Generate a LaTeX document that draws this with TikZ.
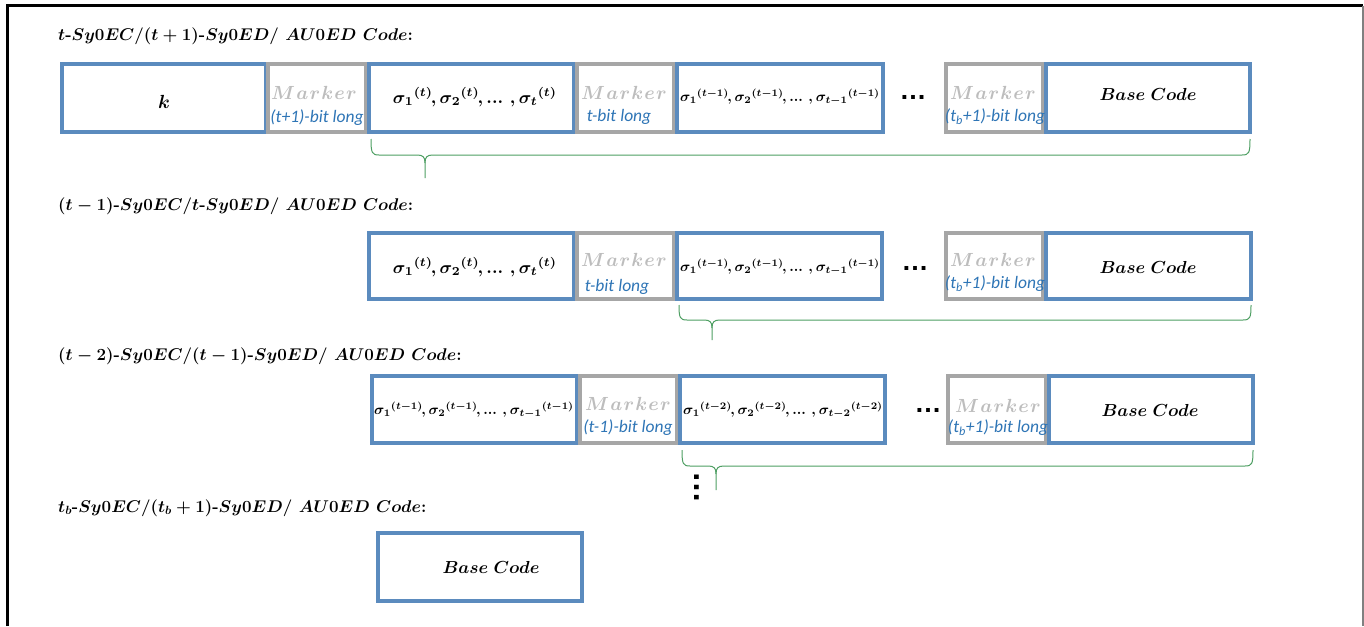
\RequirePackage{fix-cm}
\documentclass[tikz,border=0pt]{standalone}
\usepackage{fontspec}
\usepackage{amsmath}
\usepackage{bm}
\newfontfamily\carl{Carlito}
\newfontfamily\libsans{Liberation Sans}
\usetikzlibrary{calc}
\definecolor{boxblue}{HTML}{5B8BBE}
\definecolor{markgray}{HTML}{A6A6A6}
\definecolor{marktext}{HTML}{BDBDBD}
\definecolor{bitblue}{HTML}{2E75B6}
\definecolor{bracegreen}{HTML}{4E9F63}
\tikzset{
  bluebox/.style={draw=boxblue, line width=3.3pt, inner sep=0pt},
  graybox/.style={draw=markgray, line width=3.3pt, inner sep=0pt},
  ttl/.style={anchor=west, inner sep=0pt, font=\fontsize{17}{20}\selectfont\bfseries\boldmath},
  mk/.style={text=marktext, inner sep=0pt, font=\fontsize{19}{19}\selectfont\boldmath},
  bl/.style={text=bitblue, inner sep=0pt, font=\carl\itshape\fontsize{17.5}{18}\selectfont},
  bc/.style={inner sep=0pt, font=\fontsize{19}{19}\selectfont\boldmath},
  brc/.style={draw=bracegreen, line width=1pt},
  dotsty/.style={inner sep=0pt, font=\libsans\bfseries}
}
% box: style, name, x1, y1, x2, y2
\newcommand\mybox[6]{\node[#1, minimum width={#5-#3}, minimum height={#6-#4}] (#2) at ({(#3+#5)/2},{(#4+#6)/2}) {};}
% brace: xl, xtip, xr, ytop, ybot, ytipbottom
\newcommand\mybrace[6]{%
  \draw[brc] (#1,#4) .. controls (#1,#5-2) and (#1+1,#5) .. (#1+8,#5) -- (#2-8,#5) .. controls (#2-2,#5) and (#2,#5+2) .. (#2,#5+8) -- (#2,#6);
  \draw[brc] (#2,#5+8) .. controls (#2,#5+2) and (#2+2,#5) .. (#2+8,#5) -- (#3-8,#5) .. controls (#3-1,#5) and (#3,#5-2) .. (#3,#4);}
\newcommand\mkr{$M\mkern1mu a\mkern1mu r\mkern1mu k\mkern1mu e\mkern1mu r$}
\newcommand\cel{\mathinner{\ldotp\mkern-3mu\ldotp\mkern-3mu\ldotp}}
\newcommand\sigT{\resizebox{164pt}{!}{\boldmath$\sigma_1{}^{(t)}\mkern-2mu, \sigma_2{}^{(t)}\mkern-2mu, \cel\,, \sigma_t{}^{(t)}$}}
\newcommand\sigTa{\resizebox{200pt}{!}{\boldmath$\sigma_1{}^{(t-1)}\mkern-2mu, \sigma_2{}^{(t-1)}\mkern-2mu, \cel\,, \sigma_{t-1}{}^{(t-1)}$}}
\newcommand\sigTb{\resizebox{200pt}{!}{\boldmath$\sigma_1{}^{(t-2)}\mkern-2mu, \sigma_2{}^{(t-2)}\mkern-2mu, \cel\,, \sigma_{t-2}{}^{(t-2)}$}}
\newcommand\basecode{\resizebox{97pt}{!}{\boldmath$Base\ Code$}}
\newcommand\mydots{\resizebox{27pt}{!}{…}}
\newcommand\myvdots{\resizebox{32pt}{!}{…}}
\begin{document}
\begin{tikzpicture}[x=1pt,y=-1pt]
\useasboundingbox (0,0) rectangle (1364,626);
\fill[white] (0,0) rectangle (1364,626);
% frame
\coordinate (fa) at (7,626);
\coordinate (fb) at (7,6);
\coordinate (fc) at (1363,6);
\coordinate (fd) at (1363,626);
\draw[line width=3pt] (fa) -- (fb) -- (fc);
\draw[gray, line width=1.8pt] (fc) -- (fd);

% ---------- Row 1 ----------
\node[ttl] (t1) at (58,36) {$t$-$Sy0EC/(t+1)$-$Sy0ED/\ AU0ED\ Code$:};
\mybox{bluebox}{r1k}{62}{64}{266}{132}
\mybox{graybox}{r1m1}{268}{64}{366}{132}
\mybox{bluebox}{r1s1}{369}{64}{574}{132}
\mybox{graybox}{r1m2}{577}{64}{674}{132}
\mybox{bluebox}{r1s2}{677}{64}{883}{132}
\mybox{graybox}{r1m3}{946}{64}{1043}{132}
\mybox{bluebox}{r1b}{1046}{64}{1250}{132}
\node[bc] (r1kt) at (164,102) {$k$};
\node[mk] (r1m1a) at (314,93) {\mkr};
\node[bl] (r1m1b) at (317,118) {(t+1)-bit long};
\node (r1s1t) at (475,97) {\sigT};
\node[mk] (r1m2a) at (624,93) {\mkr};
\node[bl] (r1m2b) at (619,117) {t-bit long};
\node (r1s2t) at (780,97) {\sigTa};
\node[dotsty] (r1d) at (913,97) {\mydots};
\node[mk] (r1m3a) at (993,93) {\mkr};
\node[bl] (r1m3b) at (995,117) {(t\textsubscript{b}+1)-bit long};
\node[bc] (r1bt) at (1148,94) {\basecode};
\mybrace{371}{425}{1250}{139}{155}{178}

% ---------- Row 2 ----------
\node[ttl] (t2) at (58,206) {$(t-1)$-$Sy0EC/t$-$Sy0ED/\ AU0ED\ Code$:};
\mybox{bluebox}{r2s1}{369}{233}{574}{299}
\mybox{graybox}{r2m2}{577}{233}{674}{299}
\mybox{bluebox}{r2s2}{677}{233}{882}{299}
\mybox{graybox}{r2m3}{946}{233}{1043}{299}
\mybox{bluebox}{r2b}{1046}{233}{1251}{299}
\node (r2s1t) at (475,267) {\sigT};
\node[mk] (r2m2a) at (624,260) {\mkr};
\node[bl] (r2m2b) at (617,287) {t-bit long};
\node (r2s2t) at (780,267) {\sigTa};
\node[dotsty] (r2d) at (915,268) {\mydots};
\node[mk] (r2m3a) at (993,260) {\mkr};
\node[bl] (r2m3b) at (995,284) {(t\textsubscript{b}+1)-bit long};
\node[bc] (r2bt) at (1148,267) {\basecode};
\mybrace{679}{712}{1251}{305}{320}{340}

% ---------- Row 3 ----------
\node[ttl] (t3) at (58,356) {$(t-2)$-$Sy0EC/(t-1)$-$Sy0ED/\ AU0ED\ Code$:};
\mybox{bluebox}{r3s1}{372}{376}{577}{443}
\mybox{graybox}{r3m2}{580}{376}{677}{443}
\mybox{bluebox}{r3s2}{680}{376}{885}{443}
\mybox{graybox}{r3m3}{948}{376}{1046}{443}
\mybox{bluebox}{r3b}{1049}{376}{1253}{443}
\node (r3s1t) at (474,410) {\sigTa};
\node[mk] (r3m2a) at (628,404) {\mkr};
\node[bl] (r3m2b) at (628,428) {(t-1)-bit long};
\node (r3s2t) at (783,410) {\sigTb};
\node[dotsty] (r3d) at (928,410) {\mydots};
\node[mk] (r3m3a) at (998,406) {\mkr};
\node[bl] (r3m3b) at (998,428) {(t\textsubscript{b}+1)-bit long};
\node[bc] (r3bt) at (1150,410) {\basecode};
\mybrace{682}{716}{1253}{450}{466}{490}
\node[dotsty, rotate=-90] (vd) at (697,487) {\myvdots};

% ---------- Row 4 ----------
\node[ttl] (t4) at (58,508) {$t_b$-$Sy0EC/(t_b+1)$-$Sy0ED/\ AU0ED\ Code$:};
\mybox{bluebox}{r4b}{378}{533}{582}{601}
\node[bc] (r4bt) at (491,567) {\basecode};
\end{tikzpicture}
\end{document}
